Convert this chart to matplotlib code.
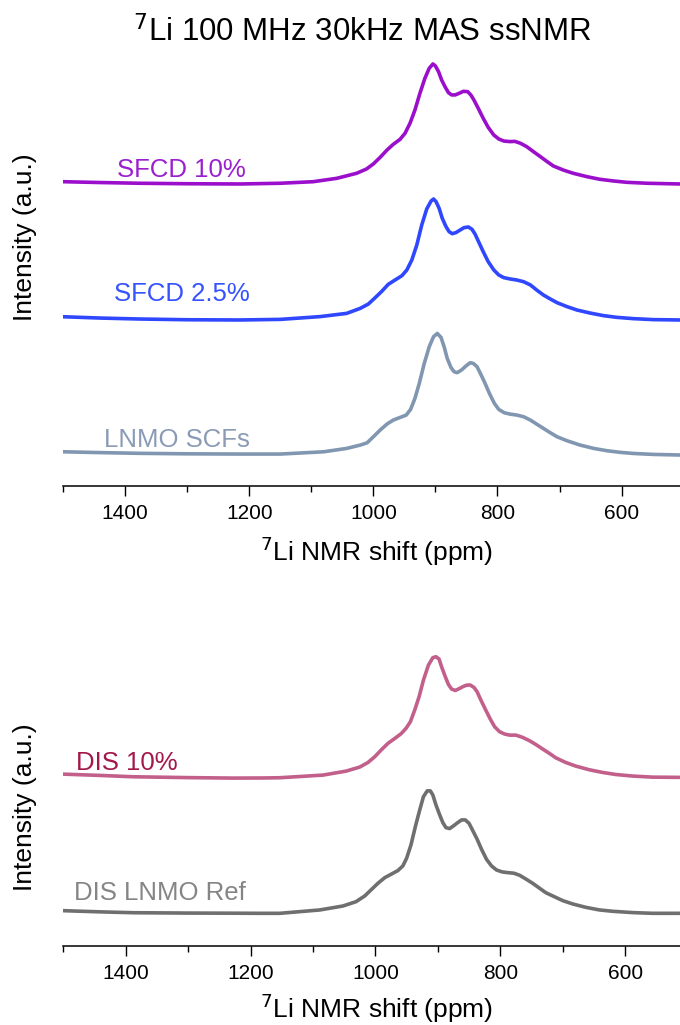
import matplotlib
matplotlib.use('Agg')
from matplotlib import pyplot as plt
from matplotlib.ticker import MultipleLocator

FONT = ['Liberation Sans', 'DejaVu Sans']

# ---- top panel spectra (ppm, normalised intensity) ----
sfcd10_ppm = [1500, 1440, 1376, 1300, 1215, 1150, 1097, 1059, 1027, 1011, 1000, 989, 978,
              968, 957, 949, 941, 933, 925, 917, 910, 904, 900, 895, 890, 884, 879, 874,
              868, 862, 855, 848, 843, 838, 831, 823, 815, 806, 798, 790, 780, 772, 763,
              753, 742, 731, 720, 710, 694, 678, 656, 635, 613, 592, 559, 506]
sfcd10_int = [0.015, 0.008, 0.002, -0.002, -0.004, 0.002, 0.015, 0.043, 0.085, 0.121, 0.163,
              0.218, 0.279, 0.326, 0.368, 0.418, 0.501, 0.612, 0.751, 0.876, 0.960, 0.996,
              0.979, 0.932, 0.862, 0.801, 0.757, 0.738, 0.738, 0.751, 0.768, 0.765, 0.738,
              0.696, 0.626, 0.543, 0.468, 0.404, 0.371, 0.354, 0.349, 0.351, 0.335, 0.307,
              0.265, 0.224, 0.182, 0.146, 0.112, 0.085, 0.057, 0.035, 0.021, 0.010, 0.002,
              -0.004]

sfcd25_ppm = [1500, 1440, 1376, 1300, 1215, 1150, 1086, 1043, 1021, 1008, 997, 986, 976,
              965, 954, 946, 938, 930, 922, 914, 907, 903, 899, 894, 889, 883, 878, 873,
              867, 860, 854, 847, 841, 836, 830, 823, 815, 806, 798, 790, 780, 769, 758,
              747, 737, 726, 715, 704, 688, 672, 651, 629, 608, 581, 549, 506]
sfcd25_int = [0.023, 0.012, 0.004, -0.002, -0.004, 0.001, 0.024, 0.051, 0.093, 0.129, 0.182,
              0.237, 0.293, 0.329, 0.365, 0.413, 0.496, 0.621, 0.788, 0.921, 0.987, 1.004,
              0.982, 0.926, 0.843, 0.774, 0.732, 0.715, 0.724, 0.746, 0.765, 0.771, 0.751,
              0.710, 0.643, 0.565, 0.482, 0.413, 0.371, 0.349, 0.338, 0.329, 0.315, 0.288,
              0.246, 0.204, 0.171, 0.140, 0.107, 0.079, 0.054, 0.032, 0.018, 0.007, -0.001,
              -0.004]

lnmo_ppm = [1500, 1440, 1376, 1300, 1215, 1150, 1080, 1043, 1021, 1010, 1000, 989, 978,
            968, 957, 947, 940, 933, 926, 918, 910, 903, 897, 891, 886, 881, 875, 870,
            865, 858, 851, 844, 839, 833, 827, 820, 813, 805, 798, 789, 780, 769, 758,
            747, 737, 726, 715, 704, 688, 667, 645, 624, 602, 581, 549, 506]
lnmo_int = [0.015, 0.008, 0.002, -0.002, -0.004, -0.004, 0.015, 0.043, 0.071, 0.090, 0.140,
            0.196, 0.246, 0.279, 0.301, 0.321, 0.368, 0.460, 0.585, 0.751, 0.890, 0.974,
            1.001, 0.968, 0.890, 0.793, 0.718, 0.682, 0.674, 0.696, 0.729, 0.757, 0.751,
            0.724, 0.662, 0.585, 0.501, 0.418, 0.368, 0.340, 0.329, 0.321, 0.307, 0.279,
            0.246, 0.210, 0.174, 0.140, 0.107, 0.071, 0.043, 0.024, 0.010, 0.001, -0.007,
            -0.012]

# ---- bottom panel spectra ----
dis10_ppm = [1500, 1440, 1388, 1300, 1228, 1180, 1153, 1084, 1047, 1025, 1012, 1001, 991,
             980, 969, 959, 951, 944, 937, 930, 923, 915, 908, 903, 898, 894, 888, 883,
             878, 872, 865, 859, 853, 848, 842, 837, 831, 824, 816, 809, 801, 793, 785,
             775, 764, 753, 743, 732, 721, 711, 695, 679, 657, 636, 615, 588, 556, 513]
dis10_int = [0.029, 0.018, 0.007, 0.000, -0.004, -0.003, -0.001, 0.021, 0.054, 0.088, 0.126,
             0.174, 0.229, 0.285, 0.326, 0.365, 0.410, 0.465, 0.563, 0.674, 0.813, 0.938,
             0.999, 1.007, 0.988, 0.924, 0.840, 0.776, 0.738, 0.726, 0.743, 0.760, 0.771,
             0.771, 0.751, 0.715, 0.646, 0.571, 0.488, 0.424, 0.382, 0.363, 0.354, 0.354,
             0.335, 0.307, 0.276, 0.238, 0.201, 0.165, 0.126, 0.096, 0.065, 0.043, 0.026,
             0.013, 0.004, 0.002]

disref_ppm = [1500, 1440, 1388, 1300, 1228, 1190, 1153, 1089, 1052, 1031, 1017, 1007, 996,
              985, 975, 964, 956, 950, 943, 936, 929, 923, 917, 912, 908, 903, 897, 892,
              887, 881, 875, 868, 862, 856, 850, 844, 837, 830, 822, 814, 806, 797, 788,
              778, 769, 759, 748, 737, 727, 716, 700, 684, 663, 641, 620, 588, 556, 513]
disref_int = [0.019, 0.009, 0.002, -0.001, -0.002, -0.003, -0.003, 0.025, 0.058, 0.094, 0.142,
              0.192, 0.247, 0.294, 0.322, 0.353, 0.392, 0.456, 0.567, 0.719, 0.858, 0.969,
              1.017, 1.017, 0.983, 0.900, 0.817, 0.753, 0.711, 0.703, 0.725, 0.753, 0.775,
              0.775, 0.747, 0.686, 0.614, 0.531, 0.447, 0.392, 0.358, 0.342, 0.336, 0.331,
              0.314, 0.283, 0.247, 0.206, 0.169, 0.142, 0.103, 0.075, 0.047, 0.025, 0.014,
              0.003, -0.003, -0.003]

top_names = ['LNMO SCFs', 'SFCD 2.5%', 'SFCD 10%']
top_offsets = [0.268, 1.385, 2.518]
top_line_colors = ['#8197b1', '#2f47ff', '#9b0fcc']
top_text_colors = ['#8a9bb5', '#3652ff', '#9a1fcf']
top_label_pos = [(1434, 0.325), (1418, 1.542), (1413, 2.575)]

bot_names = ['DIS LNMO Ref', 'DIS 10%']
bot_offsets = [0.2725, 1.40]
bot_line_colors = ['#6f6f6f', '#c2608b']
bot_text_colors = ['#858585', '#a3174a']
bot_label_pos = [(1483, 0.381), (1479, 1.464)]


def style_axis(ax, xmax_right, ylabel_y, xlabel_y):
    ax.set_xlim(1500, xmax_right)
    for s in ['left', 'right', 'top']:
        ax.spines[s].set_visible(False)
    ax.spines['bottom'].set_linewidth(1.1)
    ax.set_yticks([])
    ax.xaxis.set_major_locator(MultipleLocator(200))
    ax.xaxis.set_minor_locator(MultipleLocator(100))
    ax.tick_params(axis='x', which='major', direction='out', length=7, width=1.0, pad=6)
    ax.tick_params(axis='x', which='minor', direction='out', length=4, width=1.0)
    for lab in ax.get_xticklabels():
        lab.set_family(FONT)
        lab.set_fontsize(15)
    ax.set_xlabel(r'$^{7}$Li NMR shift (ppm)', family=FONT, fontsize=19)
    ax.xaxis.set_label_coords(0.508, xlabel_y)
    ax.set_ylabel('Intensity (a.u.)', family=FONT, fontsize=19)
    ax.yaxis.set_label_coords(-0.042, ylabel_y)


fig = plt.figure(figsize=(6.8, 10.25), dpi=100)
ax1 = fig.add_axes([0.0926, 0.5261, 0.9074, 0.4251])
ax2 = fig.add_axes([0.0931, 0.0774, 0.9069, 0.3080])

top_data = [(lnmo_ppm, lnmo_int), (sfcd25_ppm, sfcd25_int), (sfcd10_ppm, sfcd10_int)]
for (x, y), off, c in zip(top_data, top_offsets, top_line_colors):
    ax1.plot(x, [v + off for v in y], color=c, lw=2.6, solid_joinstyle='round',
             solid_capstyle='round')
for name, (lx, ly), c in zip(top_names, top_label_pos, top_text_colors):
    ax1.text(lx, ly, name, color=c, family=FONT, fontsize=18.5, va='baseline', ha='left')
ax1.set_ylim(0, 3.63)
style_axis(ax1, 506, 0.571, -0.113)
ax1.set_title(r'$^{7}$Li 100 MHz 30kHz MAS ssNMR', family=FONT, fontsize=22.5, pad=6.5,
              x=0.485)

bot_data = [(disref_ppm, disref_int), (dis10_ppm, dis10_int)]
for (x, y), off, c in zip(bot_data, bot_offsets, bot_line_colors):
    ax2.plot(x, [v + off for v in y], color=c, lw=2.6, solid_joinstyle='round',
             solid_capstyle='round')
for name, (lx, ly), c in zip(bot_names, bot_label_pos, bot_text_colors):
    ax2.text(lx, ly, name, color=c, family=FONT, fontsize=18.5, va='baseline', ha='left')
ax2.set_ylim(0, 2.63)
style_axis(ax2, 512, 0.438, -0.145)

plt.savefig('out.png', dpi=100)
plt.close()
